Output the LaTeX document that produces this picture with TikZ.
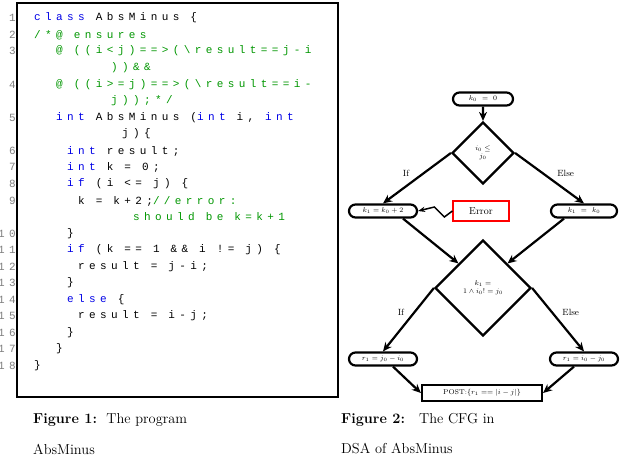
\documentclass[tikz,border=0pt]{standalone}
\usepackage{fontspec}
\setmonofont[LetterSpace=40]{Liberation Mono}
\usetikzlibrary{shapes.geometric,shapes.misc,arrows.meta}
\definecolor{kw}{RGB}{0,0,230}
\definecolor{cm}{RGB}{0,150,0}
\begin{document}
\begin{tikzpicture}[x=1pt,y=-1pt,
  ln/.style={anchor=west,inner sep=0pt,font=\fontsize{11}{11}\ttfamily},
  num/.style={anchor=east,inner sep=0pt,font=\fontsize{11}{11}\ttfamily,text=gray},
  pill/.style={draw,line width=2.2pt,rounded rectangle,inner sep=1pt,minimum height=13pt,font=\scriptsize},
  dia/.style={draw,line width=2.2pt,diamond,aspect=1,inner sep=0pt,font=\scriptsize,align=center},
  edge/.style={line width=2.2pt,-{Stealth[length=9pt,width=8pt]}},
  lab/.style={font=\small}]
\useasboundingbox (0,0) rectangle (638,456);
\draw[line width=2pt] (17,3) rectangle (338,397);
\newcommand{\I}[1]{\hspace*{#1\dimexpr 11pt\relax}}
\newcommand{\K}[1]{\textcolor{kw}{#1}}
\newcommand{\C}[1]{\textcolor{cm}{#1}}
\foreach \n/\y in {1/18,2/35,3/51,4/85,5/118,6/151,7/167,8/184,9/201,10/234,11/250,12/267,13/283,14/300,15/316,16/333,17/349,18/366}
  \node[num] (n\n) at (16,\y) {\n};
\node[ln] (l1) at (34,18) {\K{class} AbsMinus \{};
\node[ln] (l2) at (34,35) {\C{/*@ ensures}};
\node[ln] (l3) at (34,51) {\I{2}\C{@ ((i<j)==>(\textbackslash result==j-i}};
\node[ln] (l3b) at (34,68) {\I{7}\C{))\&\&}};
\node[ln] (l4) at (34,85) {\I{2}\C{@ ((i>=j)==>(\textbackslash result==i-}};
\node[ln] (l4b) at (34,101) {\I{7}\C{j));*/}};
\node[ln] (l5) at (34,118) {\I{2}\K{int} AbsMinus (\K{int} i, \K{int}};
\node[ln] (l5b) at (34,134) {\I{8}j)\{};
\node[ln] (l6) at (34,151) {\I{3}\K{int} result;};
\node[ln] (l7) at (34,167) {\I{3}\K{int} k = 0;};
\node[ln] (l8) at (34,184) {\I{3}\K{if} (i <= j) \{};
\node[ln] (l9) at (34,201) {\I{4}k = k+2;\C{//error:}};
\node[ln] (l9b) at (34,217) {\I{9}\C{should be k=k+1}};
\node[ln] (l10) at (34,234) {\I{3}\}};
\node[ln] (l11) at (34,250) {\I{3}\K{if} (k == 1 \&\& i != j) \{};
\node[ln] (l12) at (34,267) {\I{4}result = j-i;};
\node[ln] (l13) at (34,283) {\I{3}\}};
\node[ln] (l14) at (34,300) {\I{3}\K{else} \{};
\node[ln] (l15) at (34,316) {\I{4}result = i-j;};
\node[ln] (l16) at (34,333) {\I{3}\}};
\node[ln] (l17) at (34,349) {\I{2}\}};
\node[ln] (l18) at (34,366) {\}};
% captions
\node[anchor=west,inner sep=0pt,font=\Large] (c1) at (33,420) {\textbf{Figure 1:}\ \ The program};
\node[anchor=west,inner sep=0pt,font=\Large] (c1b) at (33,449) {AbsMinus};
\node[anchor=west,inner sep=0pt,font=\Large] (c2) at (341,420) {\textbf{Figure 2:}\ \ \ The CFG in};
\node[anchor=west,inner sep=0pt,font=\Large] (c2b) at (341,449) {DSA of AbsMinus};
% CFG
\node[pill,minimum width=62pt] (k0) at (483,99) {$k_0\ =\ 0$};
\node[dia,minimum size=62pt] (d1) at (483,153) {$i_0\le$\\$j_0$};
\node[pill,minimum width=70pt] (k1a) at (383,211) {$k_1=k_0+2$};
\node[draw=red,line width=1.2pt,minimum width=56pt,minimum height=20pt,inner sep=1pt] (err) at (481,211) {Error};
\node[pill,minimum width=68pt] (k1b) at (584,211) {$k_1\ =\ k_0$};
\node[dia,minimum size=96pt] (d2) at (483,288) {$k_1=$\\$1\wedge i_0!=j_0$};
\node[pill,minimum width=70pt] (r1a) at (383,359) {$r_1=j_0-i_0$};
\node[pill,minimum width=70pt] (r1b) at (584,359) {$r_1=i_0-j_0$};
\node[draw,line width=2.2pt,minimum width=120pt,minimum height=16pt,inner sep=1pt,font=\scriptsize] (post) at (482,393) {POST:$\{r_1==|i-j|\}$};
\draw[edge] (k0) -- (d1);
\draw[edge] (d1.west) -- node[lab,above left,pos=0.55] {If} (k1a.north);
\draw[edge] (d1.east) -- node[lab,above right,pos=0.55] {Else} (k1b.north);
\draw[line width=1.5pt,-{Stealth[length=7pt]}] (err.west) -- ++(-8,6) -- ++(-10,-10) -- (k1a.east);
\draw[edge] (k1a.south) ++(20,0) -- (d2.north west);
\draw[edge] (k1b.south) ++(-20,0) -- (d2.north east);
\draw[edge] (d2.west) -- node[lab,above left,pos=0.5] {If} (r1a.north);
\draw[edge] (d2.east) -- node[lab,above right,pos=0.5] {Else} (r1b.north);
\draw[edge] (r1a.south) ++(10,0) -- (post.west);
\draw[edge] (r1b.south) ++(-10,0) -- (post.east);
\end{tikzpicture}
\end{document}
